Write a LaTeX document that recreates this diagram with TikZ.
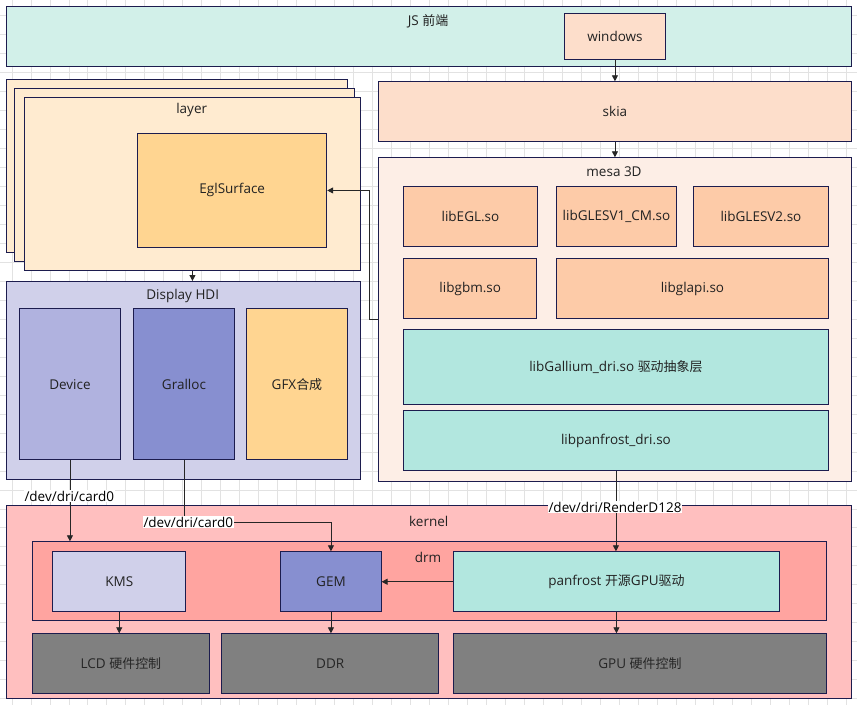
\documentclass[tikz,border=0pt]{standalone}
\usepackage{fontspec}
\setmainfont{Open Sans}
\newfontfamily\cjk[Scale=0.96]{Noto Sans CJK SC}
\usetikzlibrary{arrows.meta,calc}
\definecolor{bd}{HTML}{1C1C4E}
\definecolor{tx}{HTML}{222222}
\definecolor{gridc}{HTML}{E2E2E2}
\definecolor{cjs}{HTML}{D2F0E9}
\definecolor{cpeach}{HTML}{FDDECB}
\definecolor{cmesa}{HTML}{FDEEE6}
\definecolor{clib}{HTML}{FDCBA8}
\definecolor{cteal}{HTML}{B2E7DF}
\definecolor{clayer}{HTML}{FFEBD0}
\definecolor{cyel}{HTML}{FFD591}
\definecolor{clav}{HTML}{D0D0EA}
\definecolor{cdev}{HTML}{B0B2DF}
\definecolor{cgra}{HTML}{878FD0}
\definecolor{ckern}{HTML}{FFBFBF}
\definecolor{cdrm}{HTML}{FFA4A0}
\definecolor{cgray}{HTML}{808080}
\tikzset{
  box/.style={draw=bd, line width=0.9pt, inner sep=0pt, anchor=north west, text=tx,
    font=\fontsize{13.5}{15}\selectfont, align=center},
  ttl/.style={text=tx, font=\fontsize{13.5}{15}\selectfont, inner sep=0pt},
  elbl/.style={fill=white, text=black, font=\fontsize{13.5}{15}\selectfont, inner sep=1pt},
  arr/.style={draw=black!85, line width=0.8pt, -{Triangle[length=6pt,width=6pt]}},
}
\begin{document}
\begin{tikzpicture}[x=1pt,y=-1pt]
\useasboundingbox (0,0) rectangle (857,705);
\fill[white] (0,0) rectangle (857,705);
\foreach \i in {0,...,44} \draw[gridc, line width=0.8pt] ({12+18.97*\i},0) -- ({12+18.97*\i},705);
\foreach \j in {0,...,36} \draw[gridc, line width=0.8pt] (0,{15.7+18.97*\j}) -- (857,{15.7+18.97*\j});

% JS front end
\node[box, fill=cjs, minimum width=844.4pt, minimum height=59.7pt] (js) at (6.3,6.3) {};
\node[ttl] (jsl) at (428,21) {JS {\cjk 前端}};
\node[box, fill=cpeach, minimum width=100.4pt, minimum height=46pt] (windows) at (564.3,13.3) {windows};

% skia
\node[box, fill=cpeach, minimum width=472.4pt, minimum height=59.7pt] (skia) at (378.3,81.3) {skia};

% mesa
\node[box, fill=cmesa, minimum width=472.4pt, minimum height=323.7pt] (mesa) at (378.3,157.3) {};
\node[ttl] (mesal) at (614,172) {mesa 3D};
\node[box, fill=clib, minimum width=133.4pt, minimum height=60pt] (libegl) at (403.3,186.3) {libEGL.so};
\node[box, fill=clib, minimum width=119.4pt, minimum height=60pt] (gles1) at (556.3,186.3) {libGLESV1\_CM.so};
\node[box, fill=clib, minimum width=134.4pt, minimum height=60pt] (gles2) at (693.3,186.3) {libGLESV2.so};
\node[box, fill=clib, minimum width=133pt, minimum height=60pt] (gbm) at (403.3,258.3) {libgbm.so};
\node[box, fill=clib, minimum width=271.4pt, minimum height=60pt] (glapi) at (556.3,258.3) {libglapi.so};
\node[box, fill=cteal, minimum width=424.4pt, minimum height=75pt] (gallium) at (403.3,329.3) {libGallium\_dri.so {\cjk 驱动抽象层}};
\node[box, fill=cteal, minimum width=424.4pt, minimum height=60pt] (panlib) at (403.3,410.3) {libpanfrost\_dri.so};

% layers
\node[box, fill=clayer, minimum width=340.4pt, minimum height=173.6pt] (layerA) at (6.3,78.7) {};
\node[box, fill=clayer, minimum width=340pt, minimum height=173.6pt] (layerB) at (14.3,87.7) {};
\node[box, fill=clayer, minimum width=335.4pt, minimum height=173.3pt] (layerC) at (24.3,96.7) {};
\node[ttl] (layerl) at (191.7,110) {layer};
\node[box, fill=cyel, minimum width=189pt, minimum height=113.4pt] (eglsurf) at (137.3,133.3) {EglSurface};

% Display HDI
\node[box, fill=clav, minimum width=353.4pt, minimum height=198.3pt] (hdi) at (6.3,281) {};
\node[ttl] (hdil) at (182.7,296) {Display HDI};
\node[box, fill=cdev, minimum width=100.4pt, minimum height=151pt] (device) at (19.3,308.3) {Device};
\node[box, fill=cgra, minimum width=100.4pt, minimum height=151pt] (gralloc) at (133.3,308.3) {Gralloc};
\node[box, fill=cyel, minimum width=100.4pt, minimum height=151pt] (gfx) at (246.3,308.3) {GFX{\cjk 合成}};

% kernel
\node[box, fill=ckern, minimum width=844.4pt, minimum height=193pt] (kernel) at (6.3,505.3) {};
\node[ttl] (kernell) at (428.7,521) {kernel};
\node[box, fill=cdrm, minimum width=793.4pt, minimum height=79pt] (drm) at (32.3,541.3) {};
\node[ttl] (drml) at (428,557) {drm};
\node[box, fill=clav, minimum width=133pt, minimum height=60pt] (kms) at (52.3,551.3) {KMS};
\node[box, fill=cgra, minimum width=100.4pt, minimum height=60pt] (gem) at (280.3,551.3) {GEM};
\node[box, fill=cteal, minimum width=325.4pt, minimum height=60pt] (panfrost) at (453.3,551.3) {panfrost {\cjk 开源}GPU{\cjk 驱动}};
\node[box, fill=cgray, text=black!85, minimum width=176.4pt, minimum height=60pt] (lcd) at (32.3,633.3) {LCD {\cjk 硬件控制}};
\node[box, fill=cgray, text=black!85, minimum width=217pt, minimum height=60pt] (ddr) at (221.3,633.3) {DDR};
\node[box, fill=cgray, text=black!85, minimum width=372.4pt, minimum height=60pt] (gpu) at (453.3,633.3) {GPU {\cjk 硬件控制}};

% connectors
\draw[arr] (windows.south) -- (skia.north);
\draw[arr] (skia.south) -- (mesa.north);
\coordinate (m1) at (369.3,319);
\draw[arr] (mesa.west |- m1) -- (m1) |- (eglsurf.east);
\draw[arr] (layerC.south) -- (layerC.south |- hdi.north);
\draw[arr] (device.south) -- (device.south |- drm.north);
\coordinate (g1) at (183.5,522);
\draw[arr] (gralloc.south) -- (gralloc.south |- g1) -| (gem.north);
\draw[arr] (panlib.south) -- (panlib.south |- panfrost.north);
\draw[arr] (panfrost.west) -- (gem.east);
\draw[arr] (kms.south) -- (kms.south |- lcd.north);
\draw[arr] (gem.south) -- (gem.south |- ddr.north);
\draw[arr] (panfrost.south) -- (panfrost.south |- gpu.north);

% edge labels
\node[elbl] (la) at (69.3,496) {/dev/dri/card0};
\node[elbl] (lb) at (188.3,522) {/dev/dri/card0};
\node[elbl] (lc) at (615,507) {/dev/dri/RenderD128};
\end{tikzpicture}
\end{document}
